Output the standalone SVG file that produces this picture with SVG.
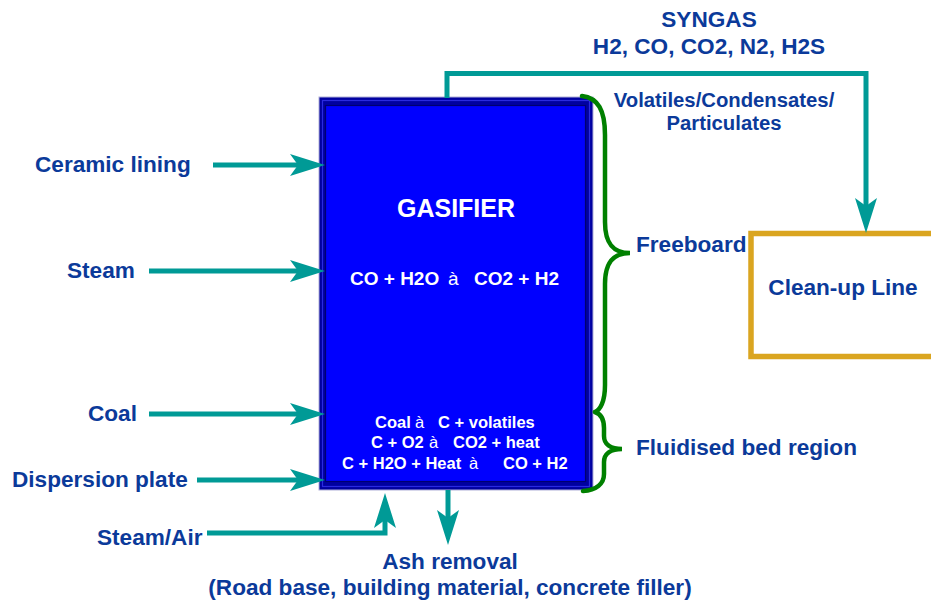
<svg xmlns="http://www.w3.org/2000/svg" width="931" height="601" viewBox="0 0 931 601">
<style>
  .lbl { font-family: "Liberation Sans", Arial, sans-serif; font-weight: bold; font-size: 22.6px; fill: #0b3a9a; }
  .sm { font-size: 20.3px; }
  .wt { font-family: "Liberation Sans", Arial, sans-serif; font-weight: bold; fill: #ffffff; }
  .nb { font-weight: normal; }
  .flow { fill: none; stroke: #009a96; stroke-width: 5; marker-end: url(#ah); }
  .brace { fill: none; stroke: #008000; stroke-width: 4.5; stroke-linecap: round; }
</style>
<defs>
  <marker id="ah" markerUnits="userSpaceOnUse" markerWidth="40" markerHeight="24" refX="8" refY="11" orient="auto" overflow="visible">
    <path d="M0,0 L35,11 L0,22 L8,11 Z" fill="#009a96"/>
  </marker>
</defs>
<rect width="931" height="601" fill="#ffffff"/>

<g id="gasifier">
  <rect x="319" y="97" width="274" height="393" fill="#0000a0" stroke="#b0b0d8" stroke-width="1"/>
  <rect x="322.5" y="100.5" width="267" height="386" fill="none" stroke="#2a2ae0" stroke-width="1.2"/>
  <rect x="325.5" y="105.5" width="260" height="376" fill="#0000ff" stroke="#000070" stroke-width="1.2"/>
  <text class="wt" x="456" y="217" font-size="25" text-anchor="middle">GASIFIER</text>
  <text class="wt" font-size="19" y="285"><tspan x="350">CO + H2O</tspan><tspan class="nb" x="448">à</tspan><tspan x="474">CO2 + H2</tspan></text>
  <text class="wt" font-size="16.5" y="428"><tspan x="375">Coal</tspan><tspan class="nb" x="415">à</tspan><tspan x="438">C + volatiles</tspan></text>
  <text class="wt" font-size="16.5" y="448"><tspan x="371">C + O2</tspan><tspan class="nb" x="429">à</tspan><tspan x="453">CO2 + heat</tspan></text>
  <text class="wt" font-size="16.5" y="469"><tspan x="342">C + H2O + Heat</tspan><tspan class="nb" x="469">à</tspan><tspan x="503">CO + H2</tspan></text>
</g>

<g id="cleanup">
  <rect x="751" y="233.5" width="220" height="123" fill="#ffffff" stroke="#daa520" stroke-width="5.5"/>
  <text class="lbl" x="843" y="295" text-anchor="middle">Clean-up Line</text>
</g>

<g id="ceramic"><text class="lbl" x="35" y="172">Ceramic lining</text></g>
<g id="steam"><text class="lbl" x="67" y="278">Steam</text></g>
<g id="coal"><text class="lbl" x="88" y="421">Coal</text></g>
<g id="dispersion"><text class="lbl" x="12" y="487">Dispersion plate</text></g>
<g id="steamair"><text class="lbl" x="97" y="545">Steam/Air</text></g>
<g id="ash">
  <text class="lbl" x="450" y="569" text-anchor="middle">Ash removal</text>
  <text class="lbl" x="450" y="595" text-anchor="middle">(Road base, building material, concrete filler)</text>
</g>
<g id="syngas">
  <text class="lbl" x="709" y="27" text-anchor="middle">SYNGAS</text>
  <text class="lbl" x="709" y="54" text-anchor="middle">H2, CO, CO2, N2, H2S</text>
</g>
<g id="volatiles">
  <text class="lbl sm" x="724" y="107" text-anchor="middle">Volatiles/Condensates/</text>
  <text class="lbl sm" x="724" y="130" text-anchor="middle">Particulates</text>
</g>
<g id="freeboard">
  <path class="brace" d="M582,96 C598,98 605,110 605,135 L605,222 C605,242 612,253 630,253 C612,253 605,264 605,284 L605,385 C605,402 600,410 595,412"/>
  <text class="lbl" x="636" y="252">Freeboard</text>
</g>
<g id="fluidised">
  <path class="brace" d="M595,412 C601,414 604,420 604,428 L604,436 C604,444 610,449 622,449 C610,449 604,454 604,462 L604,474 C604,484 596,490 583,491"/>
  <text class="lbl" x="636" y="455">Fluidised bed region</text>
</g>

<g id="connectors">
  <path class="flow" d="M213,165 L298,165"/>
  <path class="flow" d="M149,271 L298,271"/>
  <path class="flow" d="M149,414 L298,414"/>
  <path class="flow" d="M197,480 L298,480"/>
  <path class="flow" d="M207,533 L385,533 L385,520"/>
  <path class="flow" d="M448,490 L448,518"/>
  <path class="flow" d="M447,98 L447,73.5 L866,73.5 L866,206"/>
</g>
</svg>
